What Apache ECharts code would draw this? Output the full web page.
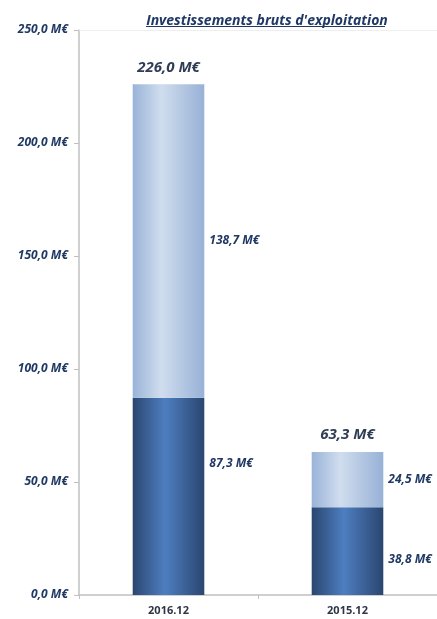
<!DOCTYPE html>
<html><head><meta charset="utf-8">
<script src="https://cdn.jsdelivr.net/npm/echarts@6/dist/echarts.min.js"></script>
<style>html,body{margin:0;padding:0;background:#fff}#c{width:437px;height:619px}</style>
</head><body><div id="c"></div>
<script>
const categories = ['2016.12', '2015.12'];
const seriesBottom = [87.3, 38.8];
const seriesTop = [138.7, 24.5];
const totals = [226.0, 63.3];
const yTicks = [0, 50, 100, 150, 200, 250];
const titleText = "Investissements bruts d'exploitation";

const fmt = v => v.toFixed(1).replace('.', ',') + ' M€';
const navy = '#1f3864';
const font = 'Open Sans';

const darkGrad = new echarts.graphic.LinearGradient(0, 0, 1, 0, [
  {offset: 0, color: '#2a4670'}, {offset: 0.45, color: '#4e7ec0'}, {offset: 1, color: '#2a4670'}
]);
const lightGrad = new echarts.graphic.LinearGradient(0, 0, 1, 0, [
  {offset: 0, color: '#99b3d8'}, {offset: 0.4, color: '#d0ddee'}, {offset: 1, color: '#97b1d6'}
]);
const bottomLabelOffsets = [[0, -33], [0, 8]];
const segLabel = {show: true, position: 'right', distance: 5, formatter: p => fmt(p.value),
  fontFamily: font, fontSize: 12, fontWeight: 'bold', fontStyle: 'italic', color: navy};

const chart = echarts.init(document.getElementById('c'));
chart.setOption({
  backgroundColor: '#fff',
  animation: false,
  title: {
    text: titleText, left: 262, top: 9, textAlign: 'center',
    textStyle: {fontFamily: font, fontSize: 14, fontStyle: 'italic', fontWeight: 'bold', color: navy}
  },
  graphic: [{type: 'line', z: 100, shape: {x1: 146, y1: 26.5, x2: 385, y2: 26.5}, style: {stroke: navy, lineWidth: 1.2}}],
  grid: {left: 79, right: -6, top: 30, bottom: 24},
  xAxis: [{
    type: 'category', data: categories,
    axisLine: {lineStyle: {color: '#c0c0c0', width: 1.5}},
    axisTick: {show: true, length: 4, lineStyle: {color: '#c0c0c0'}},
    axisLabel: {fontFamily: font, fontSize: 11, fontWeight: 'bold', color: '#2e3546', margin: 10}
  }, {
    type: 'category', data: categories, position: 'top',
    axisLine: {lineStyle: {color: '#eeeeee', width: 1}},
    axisTick: {show: false}, axisLabel: {show: false}
  }],
  yAxis: {
    type: 'value', min: 0, max: 250, interval: 50,
    axisLine: {show: true, lineStyle: {color: '#c0c0c0', width: 1.5}},
    axisTick: {show: true, length: 5, lineStyle: {color: '#c0c0c0'}},
    splitLine: {show: false},
    axisLabel: {
      fontFamily: font, fontSize: 12, fontWeight: 'bold', fontStyle: 'italic', color: navy, margin: 11,
      formatter: v => yTicks.includes(v) ? fmt(v) : ''
    }
  },
  series: [
    {
      type: 'bar', stack: 's', barWidth: '40%',
      data: seriesBottom.map((v, i) => ({value: v, label: {offset: bottomLabelOffsets[i]}})),
      itemStyle: {color: darkGrad},
      label: segLabel
    },
    {
      type: 'bar', stack: 's', barWidth: '40%',
      data: seriesTop,
      itemStyle: {color: lightGrad},
      label: segLabel
    },
    {
      type: 'scatter', data: totals, symbolSize: 1, silent: true,
      itemStyle: {color: 'rgba(255,255,255,0)', opacity: 1},
      label: {show: true, position: 'top', distance: 9, formatter: p => fmt(p.value),
        fontFamily: font, fontSize: 15, fontWeight: 'bold', fontStyle: 'italic', color: '#2f3d55'}
    }
  ]
});
</script></body></html>
